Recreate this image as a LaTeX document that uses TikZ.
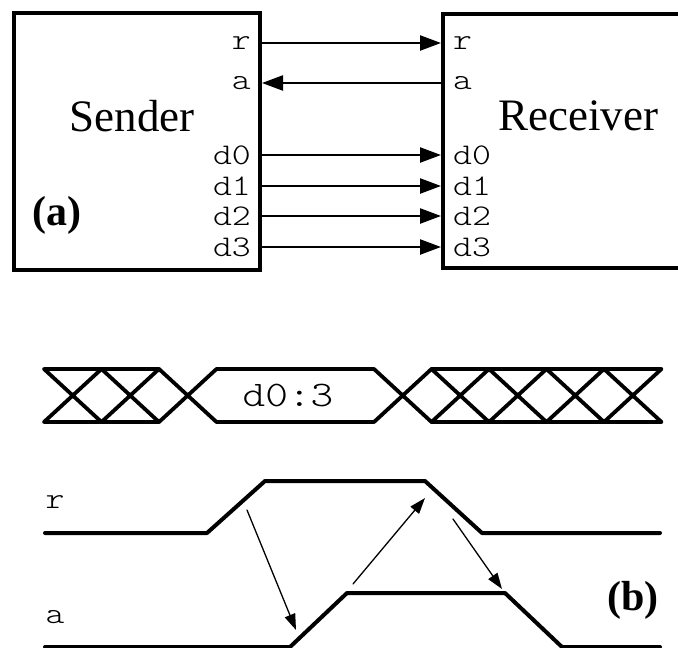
\documentclass[tikz,border=0pt]{standalone}
\usepackage{fontspec}
\setmainfont{Liberation Serif}
\newfontfamily\portfont[FakeStretch=1.2]{lmmonolt10-regular.otf}
\usetikzlibrary{arrows.meta}
\tikzset{
  every picture/.append style={line cap=round,line join=round},
  hs box/.style={draw,line width=4pt,line join=miter,inner sep=0pt},
  hs title/.style={font=\fontsize{45pt}{54pt}\selectfont,inner sep=0pt,anchor=base},
  hs tag/.style={font=\fontsize{42pt}{50pt}\selectfont\bfseries,inner sep=0pt,anchor=base},
  hs port/.style={font=\portfont\fontsize{30pt}{34pt}\selectfont,inner sep=0pt},
  hs wire/.style={line width=2.4pt,-{Triangle[length=21pt,width=15pt]}},
  hs bus/.style={line width=3.8pt},
  hs trace/.style={line width=4pt},
  hs cause/.style={line width=1.3pt,-{Triangle[length=16pt,width=11pt]}}
}
\begin{document}
\begin{tikzpicture}[x=1pt,y=-1pt,>=Stealth]
\useasboundingbox (0,0) rectangle (678,648);
\clip (0,0) rectangle (678,648);
% (a) sender and receiver
\node[hs box,minimum width=246pt,minimum height=257pt] (snd) at (137,141.5) {};
\node[hs box,minimum width=280pt,minimum height=254pt] (rcv) at (583,141) {};
\node[hs title] (snd-name) at (132,131) {Sender};
\node[hs title] (rcv-name) at (578,130) {Receiver};
\node[hs tag] (tag-a) at (57,225) {(a)};
\foreach \sig/\y in {r/43,a/83,d0/155,d1/186,d2/216,d3/247}{
  \node[hs port,anchor=east] (snd-\sig) at (251,\y) {\sig};
  \node[hs port,anchor=west] (rcv-\sig) at (453,\y) {\sig};
}
\foreach \sig in {r,d0,d1,d2,d3}
  \draw[hs wire] (snd.east |- snd-\sig) -- (rcv.west |- rcv-\sig);
\draw[hs wire] (rcv.west |- rcv-a) -- (snd.east |- snd-a);
% (b) data bus
\foreach \x in {44,101.5,431.5,489,546.5,604}
  \draw[hs bus] (\x,369) -- ++(57.5,53) (\x,422) -- ++(57.5,-53);
\draw[hs bus] (44,369) -- (159,369) -- (216.5,422) -- (374,422) -- (431.5,369) -- (661.5,369);
\draw[hs bus] (44,422) -- (159,422) -- (216.5,369) -- (374,369) -- (431.5,422) -- (661.5,422);
\node[hs port,font=\portfont\fontsize{36pt}{40pt}\selectfont] (bus-data) at (288,395) {d0:3};
% request and acknowledge
\node[hs port] (lbl-r) at (55,502) {r};
\node[hs port] (lbl-a) at (55,617) {a};
\draw[hs trace] (45,533) -- (207,533) -- (265,481) -- (425,481) -- (482,533) -- (660,533);
\draw[hs trace] (45,647) -- (290,647) -- (347,593) -- (505,593) -- (562,647) -- (660,647);
\coordinate (req-up) at (247,510);
\coordinate (ack-up) at (296,630);
\coordinate (ack-hi) at (353,584);
\coordinate (req-dn) at (425,498);
\coordinate (req-lo) at (453,519);
\coordinate (ack-dn) at (502,589);
\draw[hs cause] (req-up) -- (ack-up);
\draw[hs cause] (ack-hi) -- (req-dn);
\draw[hs cause] (req-lo) -- (ack-dn);
\node[hs tag] (tag-b) at (633,610) {(b)};
\end{tikzpicture}
\end{document}
